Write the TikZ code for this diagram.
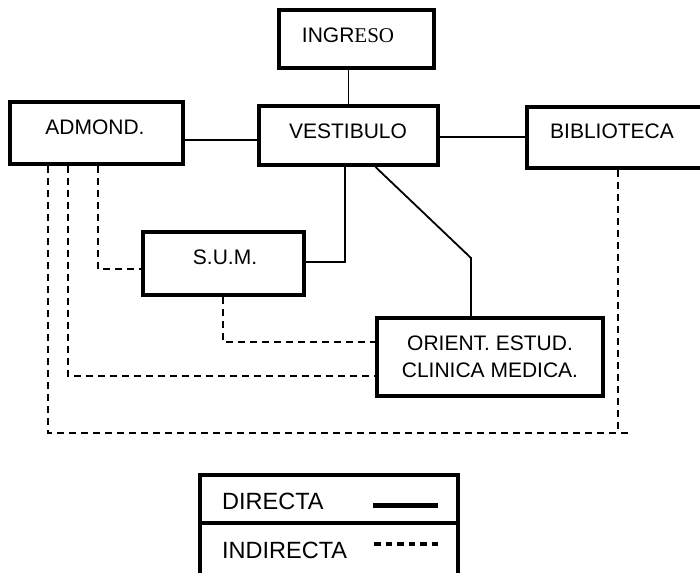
\documentclass[tikz,border=0pt]{standalone}
\usepackage{fontspec}
\setmainfont{Liberation Sans}
\newfontfamily\serifz{Liberation Serif}
\usetikzlibrary{calc}
\begin{document}
\begin{tikzpicture}[x=1pt,y=-1pt,
  roombox/.style={draw,line width=4pt,inner sep=0pt},
  lbl/.style={inner sep=0pt,font=\fontsize{21}{27}\selectfont},
  leglbl/.style={inner sep=0pt,anchor=west,font=\fontsize{23.5}{28}\selectfont},
  direct/.style={line width=1.8pt},
  indirect/.style={line width=1.8pt,dash pattern=on 7pt off 5pt}]
\useasboundingbox (0,0) rectangle (700,572);
\fill[white] (0,0) rectangle (700,572);

% boxes
\node[roombox,minimum width=155pt,minimum height=58pt] (ing) at (356.5,39) {};
\node[roombox,minimum width=179pt,minimum height=59pt] (vest) at (348.5,135.5) {};
\node[roombox,minimum width=173pt,minimum height=62pt] (adm) at (96.5,133) {};
\node[roombox,minimum width=190pt,minimum height=61pt] (bib) at (622,137.5) {};
\node[roombox,minimum width=161pt,minimum height=63pt] (sum) at (223.5,263.5) {};
\node[roombox,minimum width=226pt,minimum height=78pt,align=center,
      font=\fontsize{21}{27}\selectfont] (ori) at (490,357) {ORIENT. ESTUD.\\CLINICA MEDICA.};

% texts
\node[lbl] (ingt) at (348,35) {INGR{\serifz ESO}};
\node[lbl] (vestt) at (348,131) {VESTIBULO};
\node[lbl] (admt) at (95,127) {ADMOND.};
\node[lbl] (bibt) at (612,131) {BIBLIOTECA};
\node[lbl] (sumt) at (225,257) {S.U.M.};

% direct connections
\draw[direct] (vest.north) -- (vest.north |- ing.south);
\draw[direct] ($(adm.east)+(0,7)$) -- ($(vest.west)+(0,4.5)$);
\draw[direct] ($(vest.east)+(0,1.5)$) -- ($(bib.west)+(0,-0.5)$);
\draw[direct] ($(vest.south)+(-3.5,0)$) |- ($(sum.east)+(0,-1.5)$);
\coordinate (bend) at (471,258);
\draw[direct] ($(vest.south)+(27,0)$) -- (bend) -- (bend |- ori.north);

% indirect connections
\draw[indirect] ($(adm.south)+(1.5,0)$) |- ($(sum.west)+(0,5.5)$);
\draw[indirect] ($(adm.south)+(-28.5,0)$) |- ($(ori.west)+(0,19)$);
\draw[indirect] ($(sum.south)+(-0.5,0)$) |- ($(ori.west)+(0,-15)$);
\coordinate (lowc) at (618,433);
\coordinate (lowe) at (628,433);
\draw[indirect] ($(adm.south)+(-48.5,0)$) |- (lowe);
\draw[indirect] ($(bib.south)+(-4,0)$) -- (lowc);

% legend
\node[roombox,minimum width=258pt,minimum height=48pt] (leg1) at (329,499) {};
\node[roombox,minimum width=258pt,minimum height=60pt] (leg2) at (329,553) {};
\node[leglbl] (legt1) at (222,501) {DIRECTA};
\node[leglbl] (legt2) at (222,550) {INDIRECTA};
\coordinate (ls1) at (373,505);
\coordinate (ls2) at (438,505);
\draw[line width=5pt] (ls1) -- (ls2);
\coordinate (ld1) at (374,544);
\coordinate (ld2) at (438,544);
\draw[line width=4pt,dash pattern=on 6.5pt off 5pt] (ld1) -- (ld2);
\end{tikzpicture}
\end{document}
